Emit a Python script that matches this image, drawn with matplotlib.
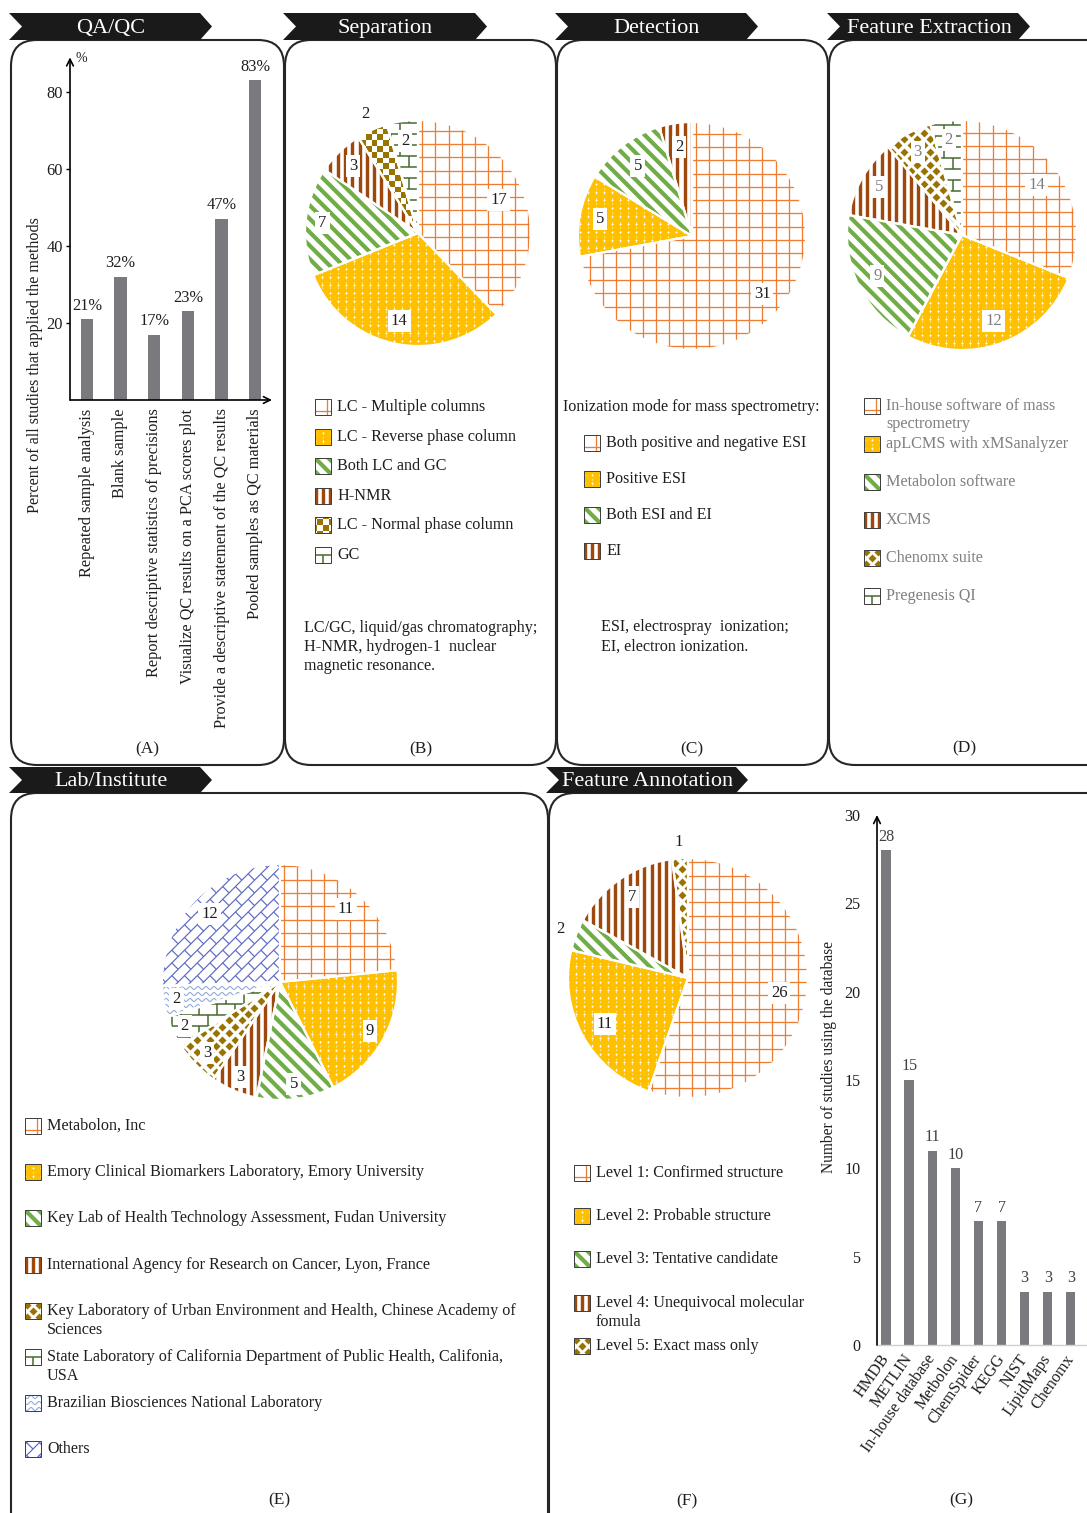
import numpy as np
import matplotlib
matplotlib.use('Agg')
import matplotlib.pyplot as plt
from matplotlib.patches import Polygon, Rectangle, FancyBboxPatch, Wedge
from matplotlib.collections import LineCollection, PolyCollection
from matplotlib.lines import Line2D

plt.rcParams['font.family'] = ['Liberation Serif', 'DejaVu Serif']

# ---------------- data ----------------
qc_methods = ['Repeated sample analysis', 'Blank sample',
              'Report descriptive statistics of precisions',
              'Visualize QC results on a PCA scores plot',
              'Provide a descriptive statement of the QC results',
              'Pooled samples as QC materials']
qc_pct = [21, 32, 17, 23, 47, 83]

sep_labels = ['LC - Multiple columns', 'LC - Reverse phase column', 'Both LC and GC',
              'H-NMR', 'LC - Normal phase column', 'GC']
sep_counts = [17, 14, 7, 3, 2, 2]

det_labels = ['Both positive and negative ESI', 'Positive ESI', 'Both ESI and EI', 'EI']
det_counts = [31, 5, 5, 2]

fe_labels = ['In-house software of mass\nspectrometry', 'apLCMS with xMSanalyzer',
             'Metabolon software', 'XCMS', 'Chenomx suite', 'Pregenesis QI']
fe_counts = [14, 12, 9, 5, 3, 2]

lab_labels = ['Metabolon, Inc',
              'Emory Clinical Biomarkers Laboratory, Emory University',
              'Key Lab of Health Technology Assessment, Fudan University',
              'International Agency for Research on Cancer, Lyon, France',
              'Key Laboratory of Urban Environment and Health, Chinese Academy of\nSciences',
              'State Laboratory of California Department of Public Health, Califonia,\nUSA',
              'Brazilian Biosciences National Laboratory',
              'Others']
lab_counts = [11, 9, 5, 3, 3, 2, 2, 12]

ann_labels = ['Level 1: Confirmed structure', 'Level 2: Probable structure',
              'Level 3: Tentative candidate', 'Level 4: Unequivocal molecular\nfomula',
              'Level 5: Exact mass only']
ann_counts = [26, 11, 2, 7, 1]

db_names = ['HMDB', 'METLIN', 'In-house database', 'Metbolon', 'ChemSpider',
            'KEGG', 'NIST', 'LipidMaps', 'Chenomx']
db_counts = [28, 15, 11, 10, 7, 7, 3, 3, 3]

# ---------------- style ----------------
W, H = 1087, 1513
PT = 0.72  # points per pixel at 100 dpi
FS = 11.6  # body text size
ORANGE = '#ED7D31'
YELLOW = '#FFC000'
GREEN = '#70AD47'
BROWN = '#9E480E'
OLIVE = '#997300'
DKGREEN = '#43682B'
LTBLUE = '#8FAADC'
BLUE = '#5E6CC4'
BARGRAY = '#7A7A7E'
TXT = '#1E1E1E'
GRAYTXT = '#7F7F7F'
BG = {'grid': 'white', 'dots': YELLOW, 'stripes': 'white', 'vstripes': 'white',
      'checker': 'white', 'diamonds': 'white', 'bricks': 'white', 'waves': 'white',
      'dbricks': 'white'}

sep_kinds = ['grid', 'dots', 'stripes', 'vstripes', 'checker', 'bricks']
det_kinds = ['grid', 'dots', 'stripes', 'vstripes']
fe_kinds = ['grid', 'dots', 'stripes', 'vstripes', 'diamonds', 'bricks']
lab_kinds = ['grid', 'dots', 'stripes', 'vstripes', 'diamonds', 'bricks', 'waves', 'dbricks']
ann_kinds = ['grid', 'dots', 'stripes', 'vstripes', 'diamonds']

fig = plt.figure(figsize=(W / 100, H / 100), dpi=100)
ax_bg = fig.add_axes([0, 0, 1, 1])
ax_bg.set_xlim(0, W)
ax_bg.set_ylim(H, 0)
ax_bg.axis('off')
ax_bg.set_autoscale_on(False)


def px_rect(x0, y0, x1, y1):
    return [x0 / W, 1 - y1 / H, (x1 - x0) / W, (y1 - y0) / H]


def add_pattern(ax, clip, kind, cx, cy, half, px, ysign, zorder=2):
    """Fill pattern drawn in pixel offsets (u right, v down) around (cx, cy)."""
    def pt(u, v):
        return (cx + np.asarray(u) / px, cy - ysign * np.asarray(v) / px)

    def span(s):
        n = int(np.ceil(half / s)) + 1
        return np.arange(-n, n + 1) * s

    arts = []
    if kind == 'grid':
        ks = span(13.3) + 4
        segs = [[pt(k, -half), pt(k, half)] for k in ks]
        segs += [[pt(-half, k), pt(half, k)] for k in ks]
        arts.append(LineCollection(segs, colors=ORANGE, linewidths=1.3 * PT))
    elif kind == 'dots':
        ks = span(8.0)
        segs = [[pt(k, -half), pt(k, half)] for k in ks]
        arts.append(LineCollection(segs, colors='white', linewidths=0.8 * PT,
                                   linestyles=[(0, (2.0, 4.0))], alpha=0.75))
        uu, vv = np.meshgrid(ks, ks + 4)
        x, y = pt(uu.ravel(), vv.ravel())
        arts.append(Line2D(x, y, ls='none', marker='o', ms=2.0 * PT, mfc='white', mec='none'))
    elif kind == 'stripes':
        s = 9.5
        Lh = 2 * half
        segs = []
        for d in span(s):
            ou, ov = d / np.sqrt(2), -d / np.sqrt(2)
            segs.append([pt(ou - Lh, ov - Lh), pt(ou + Lh, ov + Lh)])
        arts.append(LineCollection(segs, colors=GREEN, linewidths=4.2 * PT))
    elif kind == 'vstripes':
        ks = span(7.3)
        segs = [[pt(k, -half), pt(k, half)] for k in ks]
        arts.append(LineCollection(segs, colors=BROWN, linewidths=3.4 * PT))
    elif kind == 'checker':
        s = 5.8
        n = int(np.ceil(half / s)) + 1
        polys = []
        for i in range(-n, n):
            for j in range(-n, n):
                if (i + j) % 2 == 0:
                    u0, v0 = i * s, j * s
                    polys.append([pt(u0, v0), pt(u0 + s, v0), pt(u0 + s, v0 + s), pt(u0, v0 + s)])
        arts.append(PolyCollection(polys, facecolors=OLIVE, edgecolors='none'))
    elif kind == 'diamonds':
        a = 6.4
        n = int(np.ceil(half / a)) + 1
        us, vs = [], []
        for i in range(-n, n + 1):
            for j in range(-n, n + 1):
                if (i + j) % 2 == 0:
                    us.append(i * a)
                    vs.append(j * a)
        x, y = pt(np.array(us), np.array(vs))
        arts.append(Line2D(x, y, ls='none', marker='D', ms=6.3 * PT, mfc=OLIVE, mec='none'))
    elif kind == 'bricks':
        h, w = 11.0, 18.0
        segs = []
        for r_i, v in enumerate(span(h)):
            segs.append([pt(-half, v), pt(half, v)])
            off = 0 if r_i % 2 == 0 else w / 2
            for u in span(w):
                segs.append([pt(u + off, v), pt(u + off, v + h)])
        arts.append(LineCollection(segs, colors=DKGREEN, linewidths=1.5 * PT))
    elif kind == 'waves':
        t = np.linspace(-half, half, 300)
        segs = []
        for v in span(6.0):
            x, y = pt(t, v + 1.5 * np.sin(2 * np.pi * t / 8.0))
            segs.append(np.column_stack([x, y]))
        arts.append(LineCollection(segs, colors=LTBLUE, linewidths=1.1 * PT))
    elif kind == 'dbricks':
        s = 9.0
        along = np.array([1, -1]) / np.sqrt(2)
        perp = np.array([1, 1]) / np.sqrt(2)
        Lh = 2 * half
        segs = []
        for k_i, k in enumerate(span(s)):
            base = k * perp
            p0, p1 = base - Lh * along, base + Lh * along
            segs.append([pt(*p0), pt(*p1)])
            off = 0 if k_i % 2 == 0 else s
            for m in span(2 * s) * 1.0:
                st = base + (m + off) * along
                en = st + s * perp
                segs.append([pt(*st), pt(*en)])
        arts.append(LineCollection(segs, colors=BLUE, linewidths=1.2 * PT))
    for art in arts:
        art.set_zorder(zorder)
        if isinstance(art, Line2D):
            ax.add_line(art)
        else:
            ax.add_collection(art, autolim=False)
        art.set_clip_path(clip)


# ---------------- panel frames and banners ----------------
frames = [(11, 40, 284, 765), (285, 40, 556, 765), (557, 40, 828, 765),
          (829, 40, 1115, 765), (11, 793, 548, 1545), (549, 793, 1115, 1545)]
for x0, y0, x1, y1 in frames:
    ax_bg.add_patch(FancyBboxPatch((x0, y0), x1 - x0, y1 - y0,
                                   boxstyle='round,pad=0,rounding_size=26',
                                   fc='none', ec='#262626', lw=1.5, zorder=1))

banners = [('QA/QC', 9, 13, 212, 40), ('Separation', 283, 13, 487, 40),
           ('Detection', 555, 13, 758, 40), ('Feature Extraction', 827, 13, 1030, 40),
           ('Lab/Institute', 9, 767, 212, 793), ('Feature Annotation', 546, 767, 748, 793)]
for title, x0, y0, x1, y1 in banners:
    tip, notch = 12, 13
    ym = (y0 + y1) / 2
    ax_bg.add_patch(Polygon([(x0, y0), (x1 - tip, y0), (x1, ym), (x1 - tip, y1),
                             (x0, y1), (x0 + notch, ym)], closed=True,
                            fc='#1A1A1A', ec='none', zorder=3))
    ax_bg.text((x0 + notch + x1 - tip) / 2, ym + 2, title, color='white', fontsize=16,
               ha='center', va='center', zorder=4)

for lab, x, y in [('(A)', 147, 749), ('(B)', 421, 749), ('(C)', 692, 749), ('(D)', 964, 748),
                  ('(E)', 279, 1500), ('(F)', 687, 1501), ('(G)', 961, 1500)]:
    ax_bg.text(x, y, lab, fontsize=12.5, ha='center', va='center', color=TXT)


# ---------------- legends ----------------
def legend(x_icon, rows, labels, kinds, color):
    for yc, lab, k in zip(rows, labels, kinds):
        rect = Rectangle((x_icon, yc - 8), 16, 16, fc=BG[k], ec='none', zorder=2)
        ax_bg.add_patch(rect)
        add_pattern(ax_bg, rect, k, x_icon + 8, yc, 10, 1.0, -1, zorder=3)
        ax_bg.add_patch(Rectangle((x_icon, yc - 8), 16, 16, fill=False, ec='#404040',
                                  lw=1.0 * PT, zorder=4))
        for li, line in enumerate(lab.split('\n')):
            ax_bg.text(x_icon + 22, yc + li * 18.5, line, fontsize=FS, ha='left',
                       va='center', color=color)


legend(315, [407, 437, 466, 496, 525, 555], sep_labels, sep_kinds, TXT)
ax_bg.text(563, 407, 'Ionization mode for mass spectrometry:', fontsize=FS,
           ha='left', va='center', color=TXT)
legend(584, [443, 479, 515, 551], det_labels, det_kinds, TXT)
legend(864, [406, 444, 482, 520, 558, 596], fe_labels, fe_kinds, GRAYTXT)
legend(25, [1126, 1172, 1218, 1265, 1311, 1357, 1403, 1449], lab_labels, lab_kinds, TXT)
legend(574, [1173, 1216, 1259, 1303, 1346], ann_labels, ann_kinds, TXT)

for i, line in enumerate(['LC/GC, liquid/gas chromatography;', 'H-NMR, hydrogen-1  nuclear',
                          'magnetic resonance.']):
    ax_bg.text(304, 628 + 19 * i, line, fontsize=FS, ha='left', va='center', color=TXT)
for i, line in enumerate(['ESI, electrospray  ionization;', 'EI, electron ionization.']):
    ax_bg.text(601, 627 + 20 * i, line, fontsize=FS, ha='left', va='center', color=TXT)


# ---------------- pies ----------------
def draw_pie(cx, cy, r, counts, kinds, dists, color):
    L = 1.35
    ax = fig.add_axes(px_rect(cx - L * r, cy - L * r, cx + L * r, cy + L * r))
    wedges, _ = ax.pie(counts, startangle=90, counterclock=False, radius=1,
                       colors=[BG[k] for k in kinds], wedgeprops=dict(linewidth=0))
    for w, k in zip(wedges, kinds):
        add_pattern(ax, w, k, 0, 0, r * 1.05, r, +1, zorder=2)
        ax.add_patch(Wedge(w.center, w.r, w.theta1, w.theta2, fill=False, ec='white',
                           lw=2.2 * PT, zorder=4))
    for w, v, d in zip(wedges, counts, dists):
        mid = np.deg2rad((w.theta1 + w.theta2) / 2)
        ax.text(d * np.cos(mid), d * np.sin(mid), str(v), fontsize=12, color=color,
                ha='center', va='center', zorder=6,
                bbox=dict(boxstyle='square,pad=0.18', fc='white', ec='none'))
    ax.set_xlim(-L, L)
    ax.set_ylim(-L, L)
    ax.set_aspect('equal')
    ax.axis('off')
    return ax


draw_pie(418, 233, 113, sep_counts, sep_kinds, [0.77, 0.80, 0.85, 0.83, 1.15, 0.82], TXT)
draw_pie(692, 236, 114, det_counts, det_kinds, [0.80, 0.82, 0.78, 0.79], TXT)
draw_pie(962, 235, 115, fe_counts, fe_kinds, [0.78, 0.80, 0.82, 0.83, 0.82, 0.83], GRAYTXT)
draw_pie(280, 982, 118, lab_counts, lab_kinds, [0.83, 0.87, 0.87, 0.87, 0.86, 0.89, 0.89, 0.83], TXT)
draw_pie(688, 978, 120, ann_counts, ann_kinds, [0.77, 0.79, 1.14, 0.82, 1.14], TXT)

# ---------------- panel A: QA/QC bars ----------------
a_scale = 3.85
a_top = 89
axA = fig.add_axes(px_rect(70, 400 - a_top * a_scale, 272, 400))
axA.patch.set_alpha(0)
barsA = axA.bar(range(len(qc_pct)), qc_pct, width=0.36, color=BARGRAY)
axA.set_xlim(-0.5, len(qc_pct) - 0.5)
axA.set_ylim(0, a_top)
for sp in axA.spines.values():
    sp.set_visible(False)
axA.set_yticks([20, 40, 60, 80])
axA.tick_params(axis='y', length=4 * PT, width=1.0, pad=2, labelsize=11.8, labelcolor=TXT)
axA.set_xticks(range(len(qc_pct)))
axA.set_xticklabels(qc_methods, rotation=90, ha='center', va='top', fontsize=11.7, color=TXT)
axA.tick_params(axis='x', length=0, pad=6)
axA.bar_label(barsA, labels=[f'{v}%' for v in qc_pct], padding=4, fontsize=11.8, color=TXT)
axA.annotate('', xy=(0, 1), xytext=(0, 0), xycoords='axes fraction',
             arrowprops=dict(arrowstyle='->', lw=1.2, color='black', mutation_scale=12,
                             shrinkA=0, shrinkB=0))
axA.annotate('', xy=(1, 0), xytext=(0, 0), xycoords='axes fraction',
             arrowprops=dict(arrowstyle='->', lw=1.2, color='black', mutation_scale=12,
                             shrinkA=0, shrinkB=0))
ax_bg.text(76, 59, '%', fontsize=10, ha='left', va='center', color=TXT)
ax_bg.text(35, 365, 'Percent of all studies that applied the methods', rotation=90,
           fontsize=11.6, ha='center', va='center', color=TXT)

# ---------------- panel G: database bars ----------------
axG = fig.add_axes(px_rect(877, 815, 1087, 1345))
axG.patch.set_alpha(0)
barsG = axG.bar(range(len(db_counts)), db_counts, width=0.4, color=BARGRAY)
axG.set_xlim(-0.39, 8.7)
axG.set_ylim(0, 30)
for k in ['top', 'right', 'left']:
    axG.spines[k].set_visible(False)
axG.spines['bottom'].set_color('#D0D0D0')
axG.spines['bottom'].set_linewidth(1.0)
axG.set_yticks(range(0, 31, 5))
axG.tick_params(axis='y', length=0, pad=12, labelsize=11.6, labelcolor=TXT)
axG.set_xticks(range(len(db_counts)))
axG.set_xticklabels(db_names, rotation=55, ha='right', va='center', rotation_mode='anchor',
                    fontsize=11.6, color=TXT)
axG.tick_params(axis='x', length=0, pad=8)
axG.bar_label(barsG, padding=4, fontsize=11.6, color='#404040')
axG.annotate('', xy=(0, 1), xytext=(0, 0), xycoords='axes fraction',
             arrowprops=dict(arrowstyle='->', lw=1.2, color='black', mutation_scale=12,
                             shrinkA=0, shrinkB=0))
ax_bg.text(829, 1057, 'Number of studies using the database', rotation=90,
           fontsize=11.2, ha='center', va='center', color=TXT)

fig.savefig('out.png', dpi=100)
